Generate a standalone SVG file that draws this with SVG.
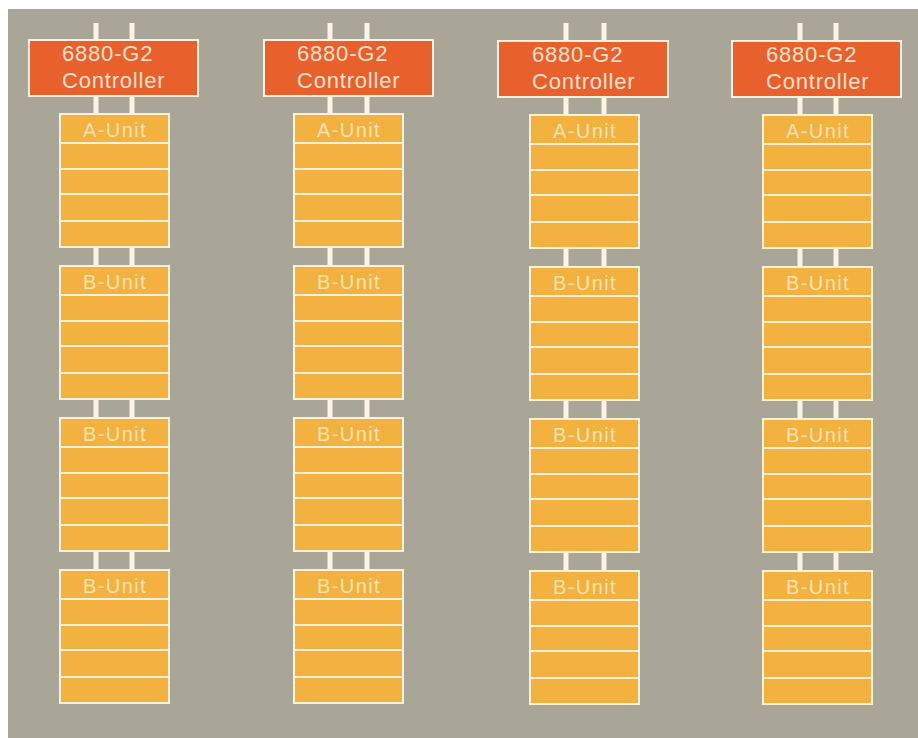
<svg xmlns="http://www.w3.org/2000/svg" width="918" height="738" viewBox="0 0 918 738">
<style>
.bg{fill:#a9a698}
.ctrl{fill:#e8612c;stroke:#fbf1e2;stroke-width:2}
.unit{fill:#f3b13f;stroke:#fcf2dc;stroke-width:2}
.div{stroke:#fcf2dc;stroke-width:2}
.bus{stroke:#fcf4e4;stroke-width:5}
.ct{font-family:"Liberation Sans",Arial,sans-serif;font-size:22px;fill:#f8e0cc;letter-spacing:0.8px}
.ut{font-family:"Liberation Sans",Arial,sans-serif;font-size:20px;fill:#fae3b2;letter-spacing:1.4px;text-anchor:middle}
</style>
<defs>
<g id="slots">
<line class="div" x1="0" y1="29" x2="109" y2="29"/>
<line class="div" x1="0" y1="55" x2="109" y2="55"/>
<line class="div" x1="0" y1="80" x2="109" y2="80"/>
<line class="div" x1="0" y1="107" x2="109" y2="107"/>
</g>
</defs>
<rect x="0" y="0" width="918" height="738" fill="#ffffff"/>
<rect class="bg" x="8" y="9" width="910" height="729"/>
<g id="connectors">
<line class="bus" x1="96" y1="23" x2="96" y2="570"/>
<line class="bus" x1="132" y1="23" x2="132" y2="570"/>
<line class="bus" x1="330" y1="23" x2="330" y2="570"/>
<line class="bus" x1="367" y1="23" x2="367" y2="570"/>
<line class="bus" x1="566" y1="23" x2="566" y2="570"/>
<line class="bus" x1="604" y1="23" x2="604" y2="570"/>
<line class="bus" x1="800" y1="23" x2="800" y2="570"/>
<line class="bus" x1="836" y1="23" x2="836" y2="570"/>
</g>
<g id="col1">
<g id="ctrl1"><rect class="ctrl" x="29" y="40" width="169" height="56"/><text class="ct" x="62" y="61">6880-G2</text><text class="ct" x="62" y="88">Controller</text></g>
<g id="a1"><rect class="unit" x="60" y="114" width="109" height="133"/><use href="#slots" x="60" y="114"/><text class="ut" x="115" y="137">A-Unit</text></g>
<g id="b1a"><rect class="unit" x="60" y="266" width="109" height="133"/><use href="#slots" x="60" y="266"/><text class="ut" x="115" y="289">B-Unit</text></g>
<g id="b1b"><rect class="unit" x="60" y="418" width="109" height="133"/><use href="#slots" x="60" y="418"/><text class="ut" x="115" y="441">B-Unit</text></g>
<g id="b1c"><rect class="unit" x="60" y="570" width="109" height="133"/><use href="#slots" x="60" y="570"/><text class="ut" x="115" y="593">B-Unit</text></g>
</g>
<g id="col2">
<g id="ctrl2"><rect class="ctrl" x="264" y="40" width="169" height="56"/><text class="ct" x="297" y="61">6880-G2</text><text class="ct" x="297" y="88">Controller</text></g>
<g id="a2"><rect class="unit" x="294" y="114" width="109" height="133"/><use href="#slots" x="294" y="114"/><text class="ut" x="349" y="137">A-Unit</text></g>
<g id="b2a"><rect class="unit" x="294" y="266" width="109" height="133"/><use href="#slots" x="294" y="266"/><text class="ut" x="349" y="289">B-Unit</text></g>
<g id="b2b"><rect class="unit" x="294" y="418" width="109" height="133"/><use href="#slots" x="294" y="418"/><text class="ut" x="349" y="441">B-Unit</text></g>
<g id="b2c"><rect class="unit" x="294" y="570" width="109" height="133"/><use href="#slots" x="294" y="570"/><text class="ut" x="349" y="593">B-Unit</text></g>
</g>
<g id="col3">
<g id="ctrl3"><rect class="ctrl" x="498" y="41" width="170" height="56"/><text class="ct" x="532" y="62">6880-G2</text><text class="ct" x="532" y="89">Controller</text></g>
<g id="a3"><rect class="unit" x="530" y="115" width="109" height="133"/><use href="#slots" x="530" y="115"/><text class="ut" x="585" y="138">A-Unit</text></g>
<g id="b3a"><rect class="unit" x="530" y="267" width="109" height="133"/><use href="#slots" x="530" y="267"/><text class="ut" x="585" y="290">B-Unit</text></g>
<g id="b3b"><rect class="unit" x="530" y="419" width="109" height="133"/><use href="#slots" x="530" y="419"/><text class="ut" x="585" y="442">B-Unit</text></g>
<g id="b3c"><rect class="unit" x="530" y="571" width="109" height="133"/><use href="#slots" x="530" y="571"/><text class="ut" x="585" y="594">B-Unit</text></g>
</g>
<g id="col4">
<g id="ctrl4"><rect class="ctrl" x="732" y="41" width="169" height="56"/><text class="ct" x="766" y="62">6880-G2</text><text class="ct" x="766" y="89">Controller</text></g>
<g id="a4"><rect class="unit" x="763" y="115" width="109" height="133"/><use href="#slots" x="763" y="115"/><text class="ut" x="818" y="138">A-Unit</text></g>
<g id="b4a"><rect class="unit" x="763" y="267" width="109" height="133"/><use href="#slots" x="763" y="267"/><text class="ut" x="818" y="290">B-Unit</text></g>
<g id="b4b"><rect class="unit" x="763" y="419" width="109" height="133"/><use href="#slots" x="763" y="419"/><text class="ut" x="818" y="442">B-Unit</text></g>
<g id="b4c"><rect class="unit" x="763" y="571" width="109" height="133"/><use href="#slots" x="763" y="571"/><text class="ut" x="818" y="594">B-Unit</text></g>
</g>
</svg>
